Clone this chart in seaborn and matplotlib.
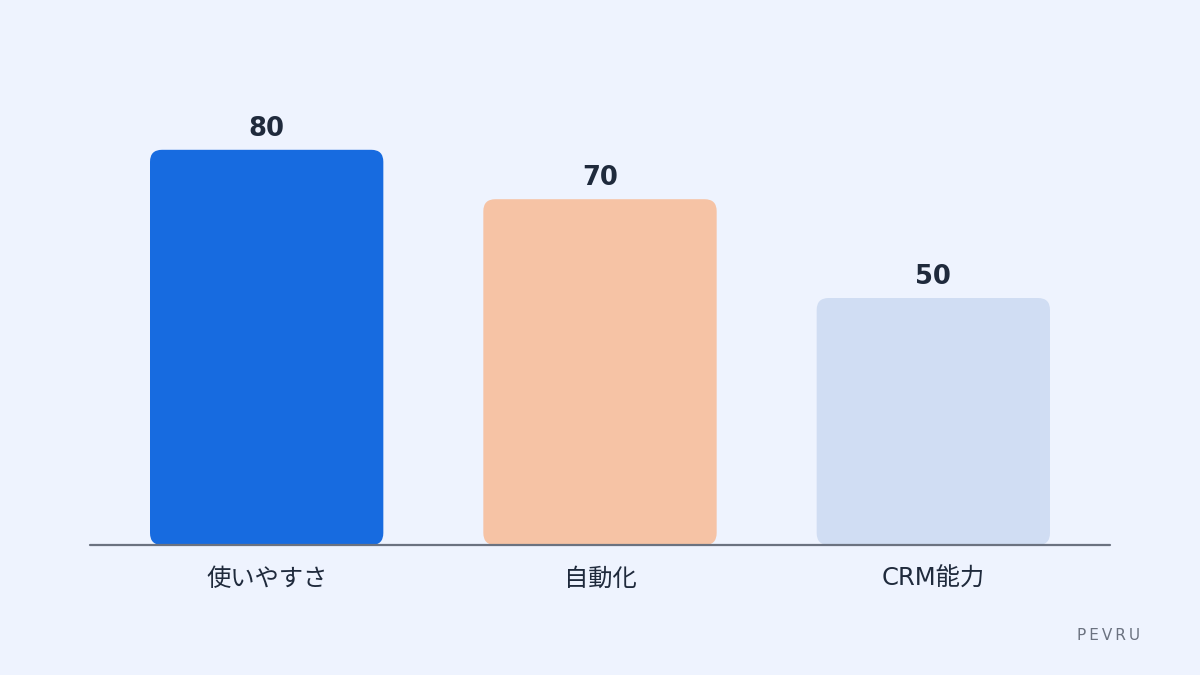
import matplotlib
matplotlib.use("Agg")
import matplotlib.pyplot as plt
from matplotlib.patches import FancyBboxPatch
import pandas as pd
import seaborn as sns

categories = ["使いやすさ", "自動化", "CRM能力"]
scores = [80, 70, 50]
bar_colors = ["#176BE0", "#F6C3A5", "#D0DDF3"]

BG = "#EEF3FE"
TEXT = "#1F2A3C"

sns.set_theme(style="white")
plt.rcParams["font.family"] = ["DejaVu Sans", "Noto Sans CJK JP"]

df = pd.DataFrame({"category": categories, "score": scores})

fig = plt.figure(figsize=(12, 6.75), dpi=100)
fig.patch.set_facecolor(BG)
ax = fig.add_axes([0.075, 130 / 675, 0.85, 494 / 675])
ax.set_facecolor(BG)

sns.barplot(data=df, x="category", y="score", hue="category",
            palette=bar_colors, width=0.7, legend=False, ax=ax)

ax.set_xlim(-0.53, 2.53)
ax.set_ylim(0, 100)

# swap the square bars for rounded ones
px_x = 3.063 / 1020   # x data units per pixel
px_y = 100 / 494      # y data units per pixel
radius = 12 * px_x
for patch, color in zip(list(ax.patches), bar_colors):
    x0, y0 = patch.get_x(), patch.get_y()
    w, h = patch.get_width(), patch.get_height()
    patch.remove()
    ax.add_patch(FancyBboxPatch(
        (x0, y0), w, h,
        boxstyle=f"round,pad=0,rounding_size={radius}",
        mutation_aspect=px_y / px_x,
        facecolor=color, edgecolor="none", zorder=2))

for i, v in enumerate(scores):
    ax.text(i, v + 8 * px_y, f"{v}", ha="center", va="bottom",
            fontsize=18.5, fontweight="bold", color=TEXT)

ax.axhline(0, color="#6B7280", linewidth=1.6, zorder=3, clip_on=False)

sns.despine(ax=ax, left=True, bottom=True)
ax.set_yticks([])
ax.set_xlabel("")
ax.set_ylabel("")
ax.tick_params(axis="x", length=0, pad=16, labelsize=17.5, labelcolor=TEXT)

fig.text(1140 / 1200, 1 - 635 / 675, "P\u2009E\u2009V\u2009R\u2009U",
         ha="right", va="center", fontsize=11, color="#6B7280")

fig.savefig("out.png", dpi=100, facecolor=BG)
